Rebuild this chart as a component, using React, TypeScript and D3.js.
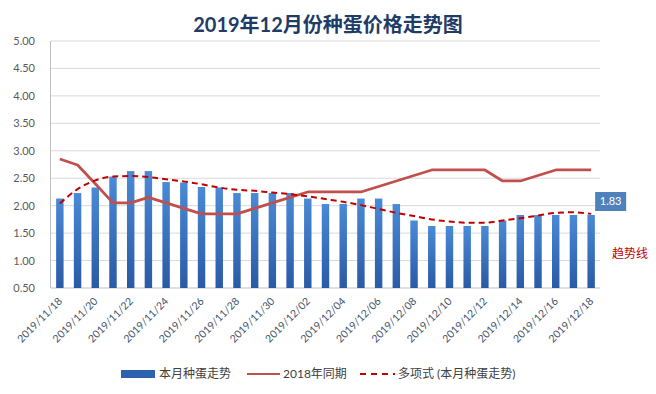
import React from 'react';
import { scaleBand, scaleLinear, line, curveMonotoneX } from 'd3';

const dates = [
  '2019/11/18', '2019/11/19', '2019/11/20', '2019/11/21', '2019/11/22', '2019/11/23',
  '2019/11/24', '2019/11/25', '2019/11/26', '2019/11/27', '2019/11/28', '2019/11/29',
  '2019/11/30', '2019/12/01', '2019/12/02', '2019/12/03', '2019/12/04', '2019/12/05',
  '2019/12/06', '2019/12/07', '2019/12/08', '2019/12/09', '2019/12/10', '2019/12/11',
  '2019/12/12', '2019/12/13', '2019/12/14', '2019/12/15', '2019/12/16', '2019/12/17',
  '2019/12/18',
];

// 本月种蛋走势 (bars)
const thisMonth = [
  2.13, 2.23, 2.33, 2.53, 2.63, 2.63, 2.43, 2.42, 2.34, 2.33, 2.23, 2.23, 2.23, 2.23, 2.13, 2.03,
  2.03, 2.13, 2.13, 2.03, 1.73, 1.63, 1.63, 1.63, 1.63, 1.73, 1.83, 1.83, 1.83, 1.83, 1.83,
];

// 2018年同期
const lastYear = [
  2.85, 2.74, 2.4, 2.05, 2.05, 2.15, 2.05, 1.95, 1.85, 1.85, 1.85, 1.95, 2.05, 2.15, 2.25, 2.25,
  2.25, 2.25, 2.35, 2.45, 2.55, 2.65, 2.65, 2.65, 2.65, 2.45, 2.45, 2.55, 2.65, 2.65, 2.65,
];

// 多项式 (本月种蛋走势)
const trend = [
  2.04, 2.3, 2.46, 2.53, 2.54, 2.52, 2.48, 2.44, 2.39, 2.33, 2.29, 2.27, 2.24, 2.21, 2.17, 2.12,
  2.07, 2.01, 1.94, 1.87, 1.81, 1.75, 1.71, 1.69, 1.69, 1.73, 1.77, 1.82, 1.87, 1.88, 1.85,
];

const yTicks = [0.5, 1, 1.5, 2, 2.5, 3, 3.5, 4, 4.5, 5];

const FONT = 'Lato, "Noto Sans CJK SC", sans-serif';

export default function App() {
  const W = 656;
  const H = 394;

  const x = scaleBand<string>().domain(dates).range([51, 600]).paddingInner(0.58).paddingOuter(0.29);
  const y = scaleLinear().domain([0.5, 5]).range([288, 41]);
  const cx = (i: number) => (x(dates[i]) as number) + x.bandwidth() / 2;

  const lineGen = line<number>()
    .x((d, i) => cx(i))
    .y((d) => y(d));
  const trendGen = line<number>()
    .x((d, i) => cx(i))
    .y((d) => y(d))
    .curve(curveMonotoneX);

  const last = thisMonth.length - 1;
  const lblX = cx(last) + 4;
  const lblY = y(thisMonth[last]) - 23;

  return (
    <svg
      width={W}
      height={H}
      style={{ position: 'absolute', left: 0, top: 0, background: '#fff' }}
      fontFamily={FONT}
    >
      <defs>
        <linearGradient id="barGrad" x1="0" y1="0" x2="0" y2="1">
          <stop offset="0%" stopColor="#4a8ad6" />
          <stop offset="100%" stopColor="#2a5aa6" />
        </linearGradient>
      </defs>

      {/* title */}
      <text x={328} y={32} textAnchor="middle" fontSize={20} fontWeight="bold" fill="#1f3c66">
        2019年12月份种蛋价格走势图
      </text>

      {/* grid + y labels */}
      {yTicks.map((t) => (
        <g key={t}>
          <line x1={51} x2={600} y1={y(t)} y2={y(t)} stroke={t === 0.5 ? '#bfbfbf' : '#d9d9d9'} />
          <text x={35} y={y(t) + 4} textAnchor="end" fontSize={11} fill="#595959">
            {t.toFixed(2)}
          </text>
        </g>
      ))}
      <line x1={50.5} x2={50.5} y1={41} y2={288} stroke="#bfbfbf" />

      {/* bars */}
      {thisMonth.map((v, i) => (
        <rect
          key={dates[i]}
          x={x(dates[i])}
          y={y(v)}
          width={x.bandwidth()}
          height={y(0.5) - y(v)}
          fill="url(#barGrad)"
        />
      ))}

      {/* 2018 line */}
      <path d={lineGen(lastYear) || ''} fill="none" stroke="#c0504d" strokeWidth={2.75} strokeLinejoin="round" />

      {/* trend line */}
      <path
        d={trendGen(trend) || ''}
        fill="none"
        stroke="#c00000"
        strokeWidth={2}
        strokeDasharray="6,4"
      />

      {/* x labels */}
      {dates.map((d, i) =>
        i % 2 === 0 ? (
          <text
            key={d}
            transform={`translate(${cx(i) + 3},${302}) rotate(-45)`}
            textAnchor="end"
            fontSize={10.5}
            fill="#44546a"
          >
            {d}
          </text>
        ) : null
      )}

      {/* data label */}
      <rect x={lblX} y={lblY} width={31} height={19} fill="#4f81bd" />
      <text x={lblX + 15.5} y={lblY + 13.5} textAnchor="middle" fontSize={11} fill="#fff">
        {thisMonth[last].toFixed(2)}
      </text>

      <text x={612} y={258} fontSize={12} fill="#c00000">
        趋势线
      </text>

      {/* legend */}
      <g fontSize={12} fill="#404040">
        <rect x={121} y={370} width={34} height={8} fill="#2e62ae" />
        <text x={159} y={378}>本月种蛋走势</text>
        <line x1={247} x2={280} y1={374} y2={374} stroke="#c0504d" strokeWidth={2} />
        <text x={283} y={378}>2018年同期</text>
        <line x1={360} x2={395} y1={374} y2={374} stroke="#c00000" strokeWidth={2} strokeDasharray="6,5" />
        <text x={398} y={378}>多项式 (本月种蛋走势)</text>
      </g>
    </svg>
  );
}
